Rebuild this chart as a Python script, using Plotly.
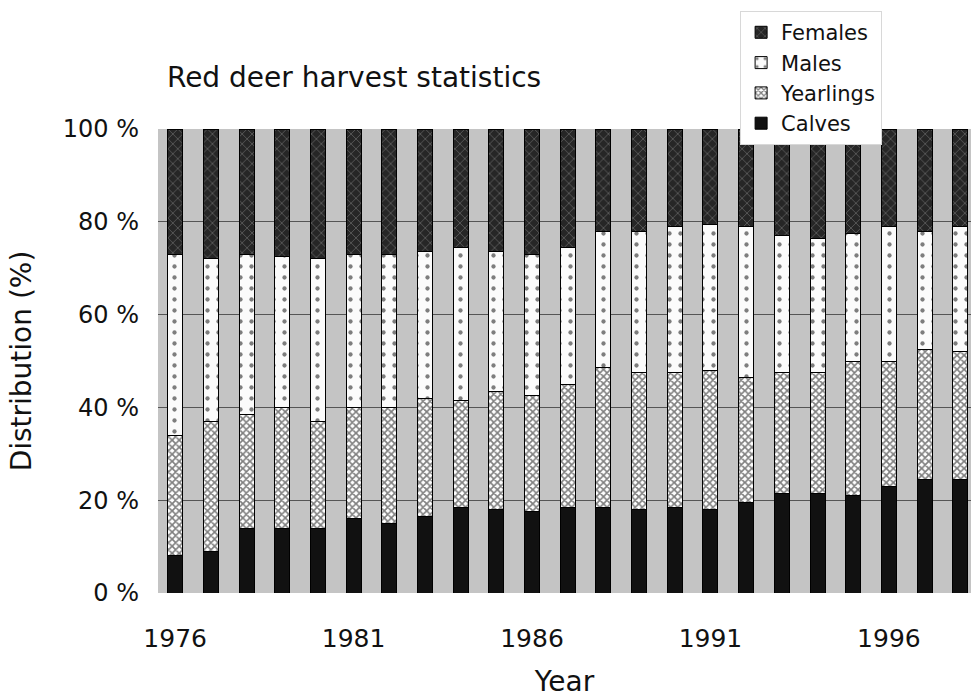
import plotly.graph_objects as go

# Red deer harvest, share of each class per year (%)
years = list(range(1976, 1999))
calves = [8, 9, 14, 14, 14, 16, 15, 16.5, 18.5, 18, 17.5, 18.5,
          18.5, 18, 18.5, 18, 19.5, 21.5, 21.5, 21, 23, 24.5, 24.5]
yearlings = [26, 28, 24.5, 26, 23, 24, 25, 25.5, 23, 25.5, 25, 26.5,
             30, 29.5, 29, 30, 27, 26, 26, 29, 27, 28, 27.5]
males = [39, 35, 34.5, 32.5, 35, 33, 33, 31.5, 33, 30, 30.5, 29.5,
         29.5, 30.5, 31.5, 31.5, 32.5, 29.5, 29, 27.5, 29, 25.5, 27]
females = [27, 28, 27, 27.5, 28, 27, 27, 26.5, 25.5, 26.5, 27, 25.5,
           22, 22, 21, 20.5, 21, 23, 23.5, 22.5, 21, 22, 21]

tick_years = [1976, 1981, 1986, 1991, 1996]
y_ticks = [0, 20, 40, 60, 80, 100]
y_tick_text = [f"{v} %" for v in y_ticks]

FONT = "DejaVu Sans"
INK = "#111111"

series = [
    ("Calves", calves, dict(color="#111111")),
    ("Yearlings", yearlings, dict(color="#ffffff",
                                  pattern=dict(shape="x", fgcolor="#000000", bgcolor="#ffffff",
                                               size=5, solidity=0.55))),
    ("Males", males, dict(color="#ffffff",
                          pattern=dict(shape=".", fgcolor="#000000", bgcolor="#fbfbfb",
                                       size=11, solidity=0.12))),
    ("Females", females, dict(color="#2b2b2b",
                              pattern=dict(shape="x", fgcolor="#8a8a8a", bgcolor="#262626",
                                           size=7, solidity=0.25))),
]

fig = go.Figure()
for name, vals, marker in series:
    fig.add_trace(go.Bar(
        x=years, y=vals, name=name, width=0.42,
        marker=dict(**marker, line=dict(color="#000000", width=1)),
    ))

fig.update_layout(
    width=971, height=698,
    barmode="stack",
    paper_bgcolor="#ffffff",
    plot_bgcolor="#c4c4c4",
    margin=dict(l=158, r=0, t=129, b=105),
    font=dict(family=FONT, color=INK),
    title=dict(text="Red deer harvest statistics", font=dict(size=28, color=INK),
               x=0.011, xref="paper", xanchor="left",
               y=1 - 77 / 698, yref="container", yanchor="middle"),
    legend=dict(x=0.716, y=1.254, xanchor="left", yanchor="top",
                traceorder="reversed", bgcolor="#ffffff",
                bordercolor="#d8d8d8", borderwidth=1,
                font=dict(size=21, color=INK), itemwidth=30,
                tracegroupgap=0),
    xaxis=dict(range=[1975.52, 1998.3], tickvals=tick_years,
               ticktext=[str(t) for t in tick_years],
               tickfont=dict(size=25, color=INK), ticks="",
               ticklabelstandoff=28, showgrid=False, zeroline=False,
               title=dict(text="Year", font=dict(size=28, color=INK), standoff=24)),
    yaxis=dict(range=[0, 100], tickvals=y_ticks, ticktext=y_tick_text,
               tickfont=dict(size=24, color=INK), ticks="",
               ticklabelstandoff=18, showgrid=True, gridcolor="#555555",
               gridwidth=1, zeroline=False,
               title=dict(text="Distribution (%)", font=dict(size=28, color=INK), standoff=22)),
)

fig.write_html("out.html")
